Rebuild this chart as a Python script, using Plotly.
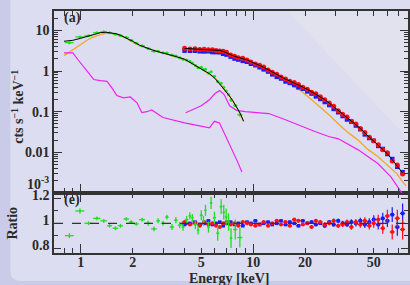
import plotly.graph_objects as go

# ---------------- low-energy spectrum (green) ----------------
E_g = [0.86, 0.99, 1.11, 1.24, 1.36, 1.47, 1.59, 1.70, 1.84, 1.96, 2.10, 2.27, 2.46, 2.66, 2.81,
       3.00, 3.16, 3.38, 3.56, 3.75, 3.92, 4.11, 4.29, 4.44, 4.62, 4.79, 5.00, 5.15, 5.29, 5.50,
       5.70, 5.96, 6.23, 6.52, 6.75, 6.97, 7.20, 7.44, 7.87, 8.37]
E_g_err = [0.05, 0.06, 0.06, 0.06, 0.06, 0.05, 0.06, 0.06, 0.07, 0.06, 0.07, 0.09, 0.09, 0.10, 0.07,
           0.09, 0.08, 0.10, 0.09, 0.09, 0.08, 0.10, 0.08, 0.07, 0.09, 0.08, 0.10, 0.07, 0.07, 0.10,
           0.10, 0.13, 0.13, 0.14, 0.10, 0.12, 0.12, 0.13, 0.22, 0.28]
flux_g = [5.0, 6.9, 7.4, 8.8, 9.2, 8.7, 8.0, 7.45, 6.7, 5.7, 4.8, 4.2, 3.6, 3.06, 3.06,
          2.8, 2.78, 2.47, 2.34, 2.12, 1.94, 1.88, 1.75, 1.57, 1.37, 1.20, 1.24, 1.09, 1.10, 0.89,
          0.955, 0.74, 0.55, 0.50, 0.40, 0.325, 0.263, 0.194, 0.143, 0.084]
flux_g_err = [0.10, 0.14, 0.11, 0.13, 0.14, 0.13, 0.12, 0.11, 0.10, 0.09, 0.07, 0.06, 0.07, 0.06, 0.06,
              0.06, 0.06, 0.06, 0.06, 0.05, 0.06, 0.05, 0.05, 0.05, 0.05, 0.04, 0.05, 0.04, 0.045, 0.04,
              0.04, 0.035, 0.033, 0.03, 0.023, 0.022, 0.018, 0.018, 0.012, 0.008]
ratio_g = [0.90, 1.10, 1.00, 1.04, 1.02, 0.98, 0.96, 0.98, 1.035, 1.01, 0.995, 1.03, 1.00, 0.955, 1.02,
           1.00, 1.05, 0.97, 1.025, 0.985, 0.97, 1.03, 1.06, 1.045, 0.99, 0.945, 1.065, 1.02, 1.105, 0.97,
           1.165, 1.045, 0.92, 1.135, 1.09, 1.05, 1.01, 0.88, 0.95, 0.885]
ratio_g_err = [0.02, 0.02, 0.015, 0.015, 0.015, 0.015, 0.015, 0.015, 0.015, 0.015, 0.015, 0.015, 0.02, 0.02, 0.02,
               0.02, 0.02, 0.025, 0.025, 0.025, 0.03, 0.03, 0.03, 0.03, 0.035, 0.035, 0.04, 0.04, 0.045, 0.045,
               0.05, 0.05, 0.06, 0.06, 0.06, 0.07, 0.07, 0.08, 0.08, 0.08]

# model lines for the low-energy spectrum
E_mod_g = [0.8, 0.9, 1.0, 1.1, 1.2, 1.3, 1.4, 1.5, 1.6, 1.7, 1.8, 1.9, 2.0, 2.2, 2.4, 2.6, 2.8,
           3.0, 3.3, 3.6, 4.0, 4.4, 4.8, 5.2, 5.6, 6.0, 6.4, 6.8, 7.2, 7.6, 8.0, 8.4, 8.8]
mod_g = [5.4, 5.7, 6.4, 7.3, 8.2, 8.8, 9.0, 8.8, 8.3, 7.6, 6.8, 6.0, 5.4, 4.3, 3.7, 3.3, 3.0,
         2.8, 2.5, 2.25, 1.95, 1.55, 1.25, 1.03, 0.85, 0.66, 0.48, 0.35, 0.26, 0.19, 0.13, 0.092, 0.058]
E_cont_g = [0.8, 0.9, 1.0, 1.1, 1.2, 1.3, 1.4, 1.5, 1.6, 1.7, 1.8, 1.9, 2.0, 2.2, 2.5, 3.0, 3.5,
            4.0, 4.5, 5.0, 5.5, 6.0, 6.5, 7.0, 7.5, 8.0, 8.8]
cont_g = [2.4, 3.4, 4.6, 5.9, 7.0, 7.9, 8.4, 8.5, 8.2, 7.5, 6.7, 5.9, 5.3, 4.2, 3.5, 2.75, 2.3,
          1.9, 1.5, 1.12, 0.9, 0.68, 0.47, 0.31, 0.2, 0.13, 0.058]
E_refl_g = [0.8, 0.9, 0.96, 1.03, 1.09, 1.19, 1.3, 1.42, 1.52, 1.62, 1.77, 1.94, 2.12, 2.26, 2.42,
            2.58, 3.0, 3.5, 4.0, 4.5, 5.0, 5.58, 5.8, 5.96, 6.38, 6.8, 7.1, 7.6, 8.1, 8.6]
refl_g = [2.8, 2.8, 1.95, 1.35, 1.0, 0.62, 0.58, 0.56, 0.38, 0.25, 0.22, 0.23, 0.165, 0.095, 0.10,
          0.11, 0.072, 0.06, 0.053, 0.048, 0.044, 0.04, 0.05, 0.058, 0.053, 0.03, 0.02, 0.011, 0.006, 0.0033]

# ---------------- hard X-ray spectra (red / blue) ----------------
E_n = [4.0, 4.3, 4.6, 4.9, 5.2, 5.5, 5.8, 6.1, 6.4, 6.7, 7.0, 7.4, 7.8, 8.2, 8.7, 9.2, 9.7, 10.3,
       10.9, 11.5, 12.2, 12.9, 13.7, 14.5, 15.4, 16.3, 17.3, 18.3, 19.4, 20.6, 21.8, 23.1, 24.5,
       26.0, 27.6, 29.3, 31.1, 33.0, 35.0, 37.1, 39.4, 41.8, 44.4, 47.1, 50.0, 53.1, 56.4, 60.0,
       64.0, 68.5, 73.5]
E_n_err = [0.15, 0.15, 0.15, 0.15, 0.15, 0.15, 0.15, 0.15, 0.15, 0.15, 0.18, 0.2, 0.2, 0.22, 0.25,
           0.25, 0.28, 0.3, 0.3, 0.33, 0.35, 0.38, 0.4, 0.42, 0.45, 0.48, 0.5, 0.53, 0.57, 0.6, 0.63,
           0.68, 0.72, 0.77, 0.82, 0.87, 0.92, 0.97, 1.03, 1.1, 1.17, 1.25, 1.32, 1.4, 1.5, 1.6, 1.7,
           1.9, 2.1, 2.3, 2.5]
flux_r = [3.64, 3.51, 3.52, 3.40, 3.45, 3.35, 3.33, 3.21, 3.12, 3.05, 2.88, 2.49, 2.30, 2.12, 2.06,
          1.88, 1.68, 1.50, 1.39, 1.25, 1.06, 0.94, 0.83, 0.713, 0.636, 0.559, 0.525, 0.464, 0.401,
          0.355, 0.301, 0.275, 0.234, 0.196, 0.163, 0.136, 0.105, 0.0871, 0.0737, 0.0582, 0.0495,
          0.0386, 0.0306, 0.0235, 0.0192, 0.01545, 0.01152, 0.00975, 0.00614, 0.00489, 0.00295]
flux_b = [3.17, 3.16, 3.16, 3.06, 3.04, 3.07, 2.93, 2.92, 2.90, 2.66, 2.54, 2.26, 2.03, 1.92, 1.78,
          1.69, 1.51, 1.39, 1.24, 1.10, 0.971, 0.828, 0.721, 0.654, 0.555, 0.512, 0.454, 0.397, 0.368,
          0.316, 0.279, 0.238, 0.206, 0.173, 0.146, 0.117, 0.0971, 0.0783, 0.0643, 0.0564, 0.0456,
          0.037, 0.0276, 0.0225, 0.0192, 0.0144, 0.0121, 0.0091, 0.00685, 0.00442, 0.00325]
mod_n = [3.60, 3.55, 3.52, 3.47, 3.42, 3.38, 3.33, 3.28, 3.22, 3.05, 2.85, 2.52, 2.30, 2.16, 2.04,
         1.88, 1.70, 1.53, 1.40, 1.24, 1.08, 0.94, 0.81, 0.72, 0.63, 0.57, 0.51, 0.455, 0.405, 0.355,
         0.31, 0.27, 0.232, 0.198, 0.163, 0.133, 0.107, 0.088, 0.073, 0.060, 0.049, 0.039, 0.030,
         0.024, 0.0192, 0.0150, 0.0120, 0.0092, 0.0066, 0.0047, 0.0031]
ratio_r = [1.01, 0.99, 1.00, 0.98, 1.01, 0.99, 1.00, 0.98, 0.97, 1.00, 1.01, 0.99, 1.00, 0.98, 1.01,
           1.00, 0.99, 0.98, 0.99, 1.01, 0.98, 1.00, 1.02, 0.99, 1.01, 0.98, 1.03, 1.02, 0.99, 1.00,
           0.97, 1.02, 1.01, 0.99, 1.00, 1.02, 0.98, 0.99, 1.01, 0.97, 1.01, 0.99, 1.02, 0.98, 1.00,
           1.03, 0.96, 1.06, 0.93, 1.04, 0.95]
ratio_b = [0.99, 1.00, 1.01, 0.99, 1.00, 1.02, 0.99, 1.00, 1.01, 0.98, 1.00, 1.01, 0.99, 1.00, 0.98,
           1.01, 1.00, 1.02, 0.99, 1.00, 1.01, 0.99, 1.00, 1.02, 0.99, 1.01, 1.00, 0.98, 1.02, 1.00,
           1.01, 0.99, 1.00, 0.98, 1.01, 0.99, 1.02, 1.00, 0.99, 1.01, 1.00, 1.02, 0.99, 1.01, 1.03,
           0.99, 1.04, 1.02, 1.07, 0.97, 1.08]
ratio_n_err = [0.008, 0.008, 0.008, 0.008, 0.008, 0.008, 0.008, 0.008, 0.008, 0.008, 0.008, 0.008,
               0.008, 0.008, 0.008, 0.008, 0.008, 0.008, 0.008, 0.008, 0.01, 0.01, 0.01, 0.01, 0.01,
               0.012, 0.012, 0.012, 0.012, 0.012, 0.014, 0.014, 0.014, 0.016, 0.016, 0.018, 0.018,
               0.02, 0.02, 0.022, 0.025, 0.025, 0.028, 0.03, 0.035, 0.04, 0.045, 0.05, 0.06, 0.07, 0.08]
E_cont_n = [4.0, 5.0, 6.0, 7.0, 8.0, 10.0, 12.0, 15.0, 17.0, 19.2, 22.0, 25.0, 28.0, 31.2, 35.0,
            40.6, 46.0, 52.8, 58.0, 62.9, 68.0, 72.2, 77.0]
cont_n = [3.1, 2.95, 2.8, 2.5, 2.0, 1.45, 1.0, 0.60, 0.44, 0.31, 0.19, 0.12, 0.078, 0.05, 0.032,
          0.020, 0.012, 0.0079, 0.0055, 0.0041, 0.003, 0.0021, 0.0015]
E_refl_n = [4.06, 5.0, 5.6, 6.0, 6.4, 6.8, 7.3, 8.0, 9.0, 11.3, 12.3, 15.0, 19.2, 23.0, 27.4,
            31.2, 40.6, 52.8, 62.9, 72.0, 77.0]
refl_n = [0.094, 0.14, 0.2, 0.28, 0.33, 0.26, 0.14, 0.108, 0.10, 0.094, 0.09, 0.066, 0.043, 0.032,
          0.0245, 0.0215, 0.0115, 0.0053, 0.0025, 0.0011, 0.0007]

# ---------------- axis ticks ----------------
x_major = [1, 2, 5, 10, 20, 50]
x_major_text = ["1", "2", "5", "10", "20", "50"]
x_minor = [0.7, 0.8, 0.9, 3, 4, 6, 7, 8, 9, 30, 40, 60, 70]
x_decades = [1, 10]
y_major = [0.001, 0.01, 0.1, 1, 10]
y_major_text = ["", "0.01", "0.1", "1", "10"]
y_bottom_label = "10<sup>-3</sup>"
y_minor = [m * d for d in [0.001, 0.01, 0.1, 1, 10] for m in range(2, 10) if m * d <= 30]
r_major = [0.8, 1.0, 1.2]
r_major_text = ["0.8", "1", "1.2"]
r_minor = [0.9, 1.1]

GREEN = "#1ee01e"
RED = "#ff1010"
BLUE = "#1a1aff"
ORANGE = "#f5a623"
MAGENTA = "#ee22ee"
FONT = dict(family="Liberation Serif", size=14, color="#2a2a2a", weight="bold")

fig = go.Figure()

# top panel : models / components
fig.add_trace(go.Scatter(x=E_cont_g, y=cont_g, mode="lines", line=dict(color=ORANGE, width=1.3),
                         xaxis="x2", yaxis="y2"))
fig.add_trace(go.Scatter(x=E_cont_n, y=cont_n, mode="lines", line=dict(color=ORANGE, width=1.3),
                         xaxis="x2", yaxis="y2"))
fig.add_trace(go.Scatter(x=E_refl_g, y=refl_g, mode="lines", line=dict(color=MAGENTA, width=1.2),
                         xaxis="x2", yaxis="y2"))
fig.add_trace(go.Scatter(x=E_refl_n, y=refl_n, mode="lines", line=dict(color=MAGENTA, width=1.2),
                         xaxis="x2", yaxis="y2"))
# top panel : data
fig.add_trace(go.Scatter(x=E_n, y=flux_b, mode="markers",
                         marker=dict(color=BLUE, size=4.5, symbol="square"),
                         xaxis="x2", yaxis="y2"))
fig.add_trace(go.Scatter(x=E_n, y=flux_r, mode="markers",
                         marker=dict(color=RED, size=5),
                         xaxis="x2", yaxis="y2"))
fig.add_trace(go.Scatter(x=E_g, y=flux_g, mode="markers",
                         marker=dict(color=GREEN, size=3),
                         error_x=dict(type="data", array=E_g_err, color=GREEN, thickness=1.2, width=0),
                         error_y=dict(type="data", array=flux_g_err, color=GREEN, thickness=1.2, width=0),
                         xaxis="x2", yaxis="y2"))
fig.add_trace(go.Scatter(x=E_mod_g, y=mod_g, mode="lines", line=dict(color="black", width=1),
                         xaxis="x2", yaxis="y2"))
fig.add_trace(go.Scatter(x=E_n, y=mod_n, mode="lines", line=dict(color="black", width=1),
                         xaxis="x2", yaxis="y2"))

# bottom panel : ratios
fig.add_shape(type="line", xref="x domain", yref="y", x0=0, x1=1, y0=1, y1=1,
              line=dict(color="#333333", width=1.2, dash="dash"))
fig.add_trace(go.Scatter(x=E_n, y=ratio_b, mode="markers",
                         marker=dict(color=BLUE, size=3.5, symbol="square"),
                         error_x=dict(type="data", array=E_n_err, color=BLUE, thickness=1.2, width=0),
                         error_y=dict(type="data", array=ratio_n_err, color=BLUE, thickness=1.2, width=0),
                         xaxis="x", yaxis="y"))
fig.add_trace(go.Scatter(x=E_n, y=ratio_r, mode="markers",
                         marker=dict(color=RED, size=4),
                         error_x=dict(type="data", array=E_n_err, color=RED, thickness=1.2, width=0),
                         error_y=dict(type="data", array=ratio_n_err, color=RED, thickness=1.2, width=0),
                         xaxis="x", yaxis="y"))
fig.add_trace(go.Scatter(x=E_g, y=ratio_g, mode="markers",
                         marker=dict(color=GREEN, size=2),
                         error_x=dict(type="data", array=E_g_err, color=GREEN, thickness=1.3, width=0),
                         error_y=dict(type="data", array=ratio_g_err, color=GREEN, thickness=1.3, width=0),
                         xaxis="x", yaxis="y"))
# carriers for the long decade ticks
fig.add_trace(go.Scatter(x=[], y=[], xaxis="x3", yaxis="y", showlegend=False))
fig.add_trace(go.Scatter(x=[], y=[], xaxis="x4", yaxis="y2", showlegend=False))

X_RANGE = [-0.1549, 1.8976]
split = 60 / 242
AX = dict(showline=True, linecolor="#333333", linewidth=1.5, mirror="ticks", ticks="inside",
          tickcolor="#333333", tickwidth=1.2, showgrid=False, zeroline=False, tickfont=FONT)

fig.update_layout(
    width=410, height=285,
    margin=dict(l=54, r=0, t=11, b=32),
    paper_bgcolor="#cacbe8",
    plot_bgcolor="#dcddf0",
    showlegend=False,
    font=FONT,
    xaxis=dict(AX, type="log", range=X_RANGE, domain=[0, 1], anchor="y",
               tickvals=x_major, ticktext=x_major_text, ticklen=5, ticklabelstandoff=-5,
               minor=dict(tickvals=x_minor, ticklen=5, ticks="inside", tickcolor="#333333")),
    xaxis3=dict(type="log", range=X_RANGE, overlaying="x", anchor="y", tickvals=x_decades,
                ticks="inside", ticklen=9, tickwidth=1.3, tickcolor="#333333", mirror="ticks",
                showticklabels=False, showline=False, showgrid=False, zeroline=False),
    yaxis=dict(AX, range=[0.76, 1.245], domain=[0, split], anchor="x",
               tickvals=r_major, ticktext=r_major_text, ticklen=7, ticklabelshift=-3,
               minor=dict(tickvals=r_minor, ticklen=4, ticks="inside", tickcolor="#333333")),
    xaxis2=dict(AX, type="log", range=X_RANGE, domain=[0, 1], anchor="y2", matches="x",
                tickvals=x_major, showticklabels=False, ticklen=5,
                minor=dict(tickvals=x_minor, ticklen=5, ticks="inside", tickcolor="#333333")),
    xaxis4=dict(type="log", range=X_RANGE, overlaying="x2", anchor="y2", tickvals=x_decades,
                ticks="inside", ticklen=9, tickwidth=1.3, tickcolor="#333333", mirror="ticks",
                showticklabels=False, showline=False, showgrid=False, zeroline=False),
    yaxis2=dict(AX, type="log", range=[-3, 1.477], domain=[split, 1], anchor="x2",
                tickvals=y_major, ticktext=y_major_text, ticklen=8,
                minor=dict(tickvals=y_minor, ticklen=4, ticks="inside", tickcolor="#333333")),
)

# light rounded panel behind the figure
fig.add_shape(type="path", xref="paper", yref="paper", layer="below",
              path="M -0.1236,1.2 L 1.1,1.2 L 1.1,-0.1157 L -0.0955,-0.1157 "
                   "Q -0.1236,-0.1157 -0.1236,-0.0744 Z",
              fillcolor="#dcddf0", line=dict(width=0))
# faint grey sheen in the upper-right corner of the slide
fig.add_shape(type="path", xref="x2 domain", yref="y2 domain", layer="below",
              path="M 0.66,1.0 L 1.0,1.0 L 1.0,0.3 Z",
              fillcolor="rgba(232,232,236,0.45)", line=dict(width=0))

ann = dict(xref="paper", yref="paper", showarrow=False, font=FONT,
           xanchor="center", yanchor="middle")
fig.add_annotation(ann, x=-0.104, y=0.605, text="cts s<sup>−1</sup> keV<sup>−1</sup>", textangle=-90)
fig.add_annotation(ann, x=-0.117, y=0.124, text="Ratio", textangle=-90)
fig.add_annotation(ann, x=0.497, y=-0.107, text="Energy [keV]")
fig.add_annotation(ann, x=0.052, y=0.97, text="(a)")
fig.add_annotation(ann, x=0.052, y=0.218, text="(e)")
# lowest decade label of the upper panel, lifted clear of the ratio labels
fig.add_annotation(ann, x=-0.008, y=0.29, xanchor="right", text=y_bottom_label)

fig.write_html("out.html",
               config={"displayModeBar": False},
               post_script="document.body.style.margin='0';"
                           "document.body.style.background='#cacbe8';")
